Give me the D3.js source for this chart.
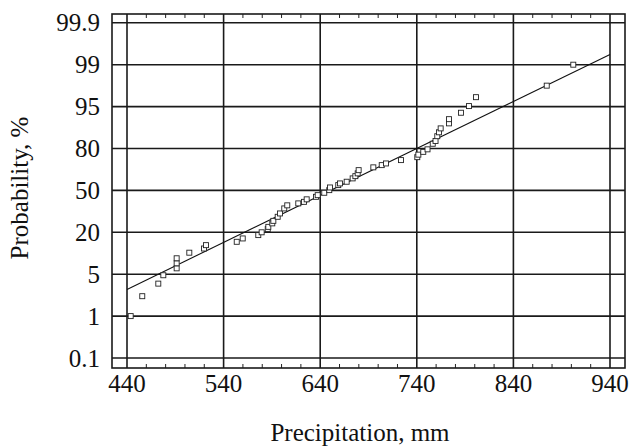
<!DOCTYPE html>
<html>
<head>
<meta charset="utf-8">
<script src="https://cdn.jsdelivr.net/npm/d3@7/dist/d3.min.js"></script>
<style>
  body { margin: 0; background: #fff; }
  text { font-family: "Liberation Serif", "Times New Roman", serif; fill: #111; }
</style>
</head>
<body>
<div id="chart"></div>
<script>
// probability axis labels (drawn evenly spaced)
var probTicks = [0.1, 1, 5, 20, 50, 80, 95, 99, 99.9];
var xTicks = [440, 540, 640, 740, 840, 940];

// observed precipitation (mm) and plotting probability (%)
var precip = [443.8, 455.8, 472.4, 477.6, 491.4, 491.4, 491.4, 504.5, 519.7, 521.8,
    553.6, 559.8, 575.9, 579.4, 585.7, 586.3, 590.4, 591.5, 596.0, 598.4,
    602.8, 605.9, 617.3, 623.2, 626.0, 635.7, 637.4, 644.2, 649.4, 650.1,
    658.7, 660.5, 667.4, 673.6, 676.4, 678.8, 679.8, 695.0, 703.7, 708.1,
    723.6, 740.5, 741.6, 746.7, 751.1, 756.5, 759.4, 761.2, 763.0, 764.7,
    773.3, 773.3, 785.7, 794.0, 801.3, 874.5, 902.0];
var prob = [1.0, 2.9, 4.1, 4.9, 7.1, 8.9, 10.7, 12.7, 14.2, 15.4,
    16.6, 17.8, 19.0, 20.0, 22.3, 23.9, 26.4, 28.2, 31.1, 33.5,
    37.1, 39.3, 40.7, 41.8, 43.6, 45.4, 46.6, 48.3, 50.2, 52.1,
    53.8, 55.0, 56.2, 58.6, 60.2, 62.2, 64.5, 66.5, 68.1, 69.3,
    71.7, 73.8, 75.6, 77.6, 79.4, 81.7, 82.7, 84.4, 85.8, 87.2,
    89.0, 90.5, 92.8, 95.05, 95.9, 97.0, 99.0];

// fitted line end points
var fitX = [440, 940];
var fitP = [3.55, 99.22];

var svgWidth = 632;
var svgHeight = 448;

var svg = d3.select('#chart')
    .append('svg')
    .attr('width', svgWidth)
    .attr('height', svgHeight);

var xScale = d3.scaleLinear()
    .domain([440, 940])
    .range([127, 610]);

var step = 41.9;
var yScale = d3.scaleLinear()
    .domain(probTicks)
    .range(probTicks.map((d, i) => 358 - i * step));

var frame = {left: 112, right: 625, top: 14, bottom: 368};

// grid lines
svg.selectAll('line.hgrid')
    .data(probTicks)
    .enter()
    .append('line')
    .attr('class', 'hgrid')
    .attr('x1', frame.left)
    .attr('x2', frame.right)
    .attr('y1', d => yScale(d))
    .attr('y2', d => yScale(d))
    .attr('stroke', '#1a1a1a')
    .attr('stroke-width', 1.6);

svg.selectAll('line.vgrid')
    .data(xTicks)
    .enter()
    .append('line')
    .attr('class', 'vgrid')
    .attr('x1', d => xScale(d))
    .attr('x2', d => xScale(d))
    .attr('y1', frame.top)
    .attr('y2', frame.bottom)
    .attr('stroke', '#1a1a1a')
    .attr('stroke-width', 1.6);

// minor ticks every 20 mm on top and bottom
var minor = d3.range(460, 940, 20).filter(d => d % 100 !== 40);
svg.selectAll('line.minorB')
    .data(minor)
    .enter()
    .append('line')
    .attr('x1', d => xScale(d))
    .attr('x2', d => xScale(d))
    .attr('y1', frame.bottom)
    .attr('y2', frame.bottom - 4)
    .attr('stroke', '#222')
    .attr('stroke-width', 1);
svg.selectAll('line.minorT')
    .data(minor)
    .enter()
    .append('line')
    .attr('x1', d => xScale(d))
    .attr('x2', d => xScale(d))
    .attr('y1', frame.top)
    .attr('y2', frame.top + 4)
    .attr('stroke', '#222')
    .attr('stroke-width', 1);

// frame
svg.append('rect')
    .attr('x', frame.left)
    .attr('y', frame.top)
    .attr('width', frame.right - frame.left)
    .attr('height', frame.bottom - frame.top)
    .attr('fill', 'none')
    .attr('stroke', '#1a1a1a')
    .attr('stroke-width', 1.6);

// fitted line
var line = d3.line()
    .x(d => xScale(d[0]))
    .y(d => yScale(d[1]));
svg.append('path')
    .datum(fitX.map((d, i) => [d, fitP[i]]))
    .attr('d', line)
    .attr('fill', 'none')
    .attr('stroke', '#111')
    .attr('stroke-width', 1.1);

// points
svg.selectAll('rect.pt')
    .data(precip)
    .enter()
    .append('rect')
    .attr('class', 'pt')
    .attr('x', d => xScale(d) - 2.5)
    .attr('y', (d, i) => yScale(prob[i]) - 2.5)
    .attr('width', 5)
    .attr('height', 5)
    .attr('fill', '#fff')
    .attr('stroke', '#222')
    .attr('stroke-width', 0.9);

// tick labels
svg.selectAll('text.xlab')
    .data(xTicks)
    .enter()
    .append('text')
    .attr('x', d => xScale(d))
    .attr('y', 392)
    .attr('text-anchor', 'middle')
    .attr('font-size', 25)
    .text(d => d);

svg.selectAll('text.ylab')
    .data(probTicks)
    .enter()
    .append('text')
    .attr('x', 100)
    .attr('y', d => yScale(d) + 8.5)
    .attr('text-anchor', 'end')
    .attr('font-size', 25)
    .text(d => d);

// axis titles
svg.append('text')
    .attr('x', 360)
    .attr('y', 441)
    .attr('text-anchor', 'middle')
    .attr('font-size', 25)
    .text('Precipitation, mm');

svg.append('text')
    .attr('transform', 'rotate(-90)')
    .attr('x', -188)
    .attr('y', 28)
    .attr('text-anchor', 'middle')
    .attr('font-size', 25)
    .text('Probability, %');
</script>
</body>
</html>
